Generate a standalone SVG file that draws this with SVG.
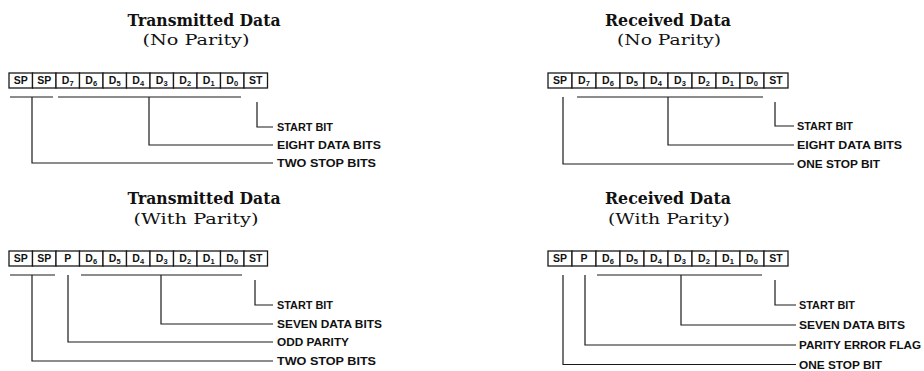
<svg xmlns="http://www.w3.org/2000/svg" width="924" height="371" viewBox="0 0 924 371">
<style>
.bg{fill:#ffffff}
.cell{fill:#ffffff;stroke:#1a1a1a;stroke-width:1.3}
.ct{font-family:"Liberation Sans",Arial,sans-serif;font-weight:bold;font-size:10.5px;fill:#111;text-anchor:middle}
.sub{font-size:7.5px}
.title{font-family:"DejaVu Serif",serif;font-weight:bold;font-size:16px;fill:#111;text-anchor:middle}
.subt{font-family:"DejaVu Serif",serif;font-size:15px;fill:#111;text-anchor:middle}
.lbl{font-family:"Liberation Sans",Arial,sans-serif;font-weight:bold;font-size:11.5px;fill:#111;dominant-baseline:central}
.ln{fill:none;stroke:#1a1a1a;stroke-width:1.2}
</style>
<rect class="bg" x="0" y="0" width="924" height="371"/>

<!-- Panel 1: Transmitted Data (No Parity) -->
<g id="tx-no-parity">
  <text class="title" x="204" y="26" textLength="153" lengthAdjust="spacingAndGlyphs">Transmitted Data</text>
  <text class="subt" x="196" y="45" textLength="107" lengthAdjust="spacingAndGlyphs">(No Parity)</text>
  <g id="tx-np-frame">
    <rect class="cell" x="9" y="73" width="23.5" height="15"/>
    <rect class="cell" x="32.5" y="73" width="23.5" height="15"/>
    <rect class="cell" x="56" y="73" width="23.5" height="15"/>
    <rect class="cell" x="79.5" y="73" width="23.5" height="15"/>
    <rect class="cell" x="103" y="73" width="23.5" height="15"/>
    <rect class="cell" x="126.5" y="73" width="23.5" height="15"/>
    <rect class="cell" x="150" y="73" width="23.5" height="15"/>
    <rect class="cell" x="173.5" y="73" width="23.5" height="15"/>
    <rect class="cell" x="197" y="73" width="23.5" height="15"/>
    <rect class="cell" x="220.5" y="73" width="23.5" height="15"/>
    <rect class="cell" x="244" y="73" width="23.5" height="15"/>
    <text class="ct" x="20.75" y="84.3">SP</text>
    <text class="ct" x="44.25" y="84.3">SP</text>
    <text class="ct" x="67.75" y="84.3">D<tspan class="sub" dy="2">7</tspan></text>
    <text class="ct" x="91.25" y="84.3">D<tspan class="sub" dy="2">6</tspan></text>
    <text class="ct" x="114.75" y="84.3">D<tspan class="sub" dy="2">5</tspan></text>
    <text class="ct" x="138.25" y="84.3">D<tspan class="sub" dy="2">4</tspan></text>
    <text class="ct" x="161.75" y="84.3">D<tspan class="sub" dy="2">3</tspan></text>
    <text class="ct" x="185.25" y="84.3">D<tspan class="sub" dy="2">2</tspan></text>
    <text class="ct" x="208.75" y="84.3">D<tspan class="sub" dy="2">1</tspan></text>
    <text class="ct" x="232.25" y="84.3">D<tspan class="sub" dy="2">0</tspan></text>
    <text class="ct" x="255.75" y="84.3">ST</text>
  </g>
  <text class="lbl" x="277" y="127" textLength="56" lengthAdjust="spacingAndGlyphs">START BIT</text>
  <text class="lbl" x="277" y="145" textLength="104" lengthAdjust="spacingAndGlyphs">EIGHT DATA BITS</text>
  <text class="lbl" x="277" y="163" textLength="99" lengthAdjust="spacingAndGlyphs">TWO STOP BITS</text>
</g>

<!-- Panel 2: Transmitted Data (With Parity) -->
<g id="tx-with-parity">
  <text class="title" x="204" y="204" textLength="153" lengthAdjust="spacingAndGlyphs">Transmitted Data</text>
  <text class="subt" x="196" y="224" textLength="125" lengthAdjust="spacingAndGlyphs">(With Parity)</text>
  <g id="tx-wp-frame">
    <rect class="cell" x="9" y="251" width="23.5" height="15"/>
    <rect class="cell" x="32.5" y="251" width="23.5" height="15"/>
    <rect class="cell" x="56" y="251" width="23.5" height="15"/>
    <rect class="cell" x="79.5" y="251" width="23.5" height="15"/>
    <rect class="cell" x="103" y="251" width="23.5" height="15"/>
    <rect class="cell" x="126.5" y="251" width="23.5" height="15"/>
    <rect class="cell" x="150" y="251" width="23.5" height="15"/>
    <rect class="cell" x="173.5" y="251" width="23.5" height="15"/>
    <rect class="cell" x="197" y="251" width="23.5" height="15"/>
    <rect class="cell" x="220.5" y="251" width="23.5" height="15"/>
    <rect class="cell" x="244" y="251" width="23.5" height="15"/>
    <text class="ct" x="20.75" y="262.3">SP</text>
    <text class="ct" x="44.25" y="262.3">SP</text>
    <text class="ct" x="67.75" y="262.3">P</text>
    <text class="ct" x="91.25" y="262.3">D<tspan class="sub" dy="2">6</tspan></text>
    <text class="ct" x="114.75" y="262.3">D<tspan class="sub" dy="2">5</tspan></text>
    <text class="ct" x="138.25" y="262.3">D<tspan class="sub" dy="2">4</tspan></text>
    <text class="ct" x="161.75" y="262.3">D<tspan class="sub" dy="2">3</tspan></text>
    <text class="ct" x="185.25" y="262.3">D<tspan class="sub" dy="2">2</tspan></text>
    <text class="ct" x="208.75" y="262.3">D<tspan class="sub" dy="2">1</tspan></text>
    <text class="ct" x="232.25" y="262.3">D<tspan class="sub" dy="2">0</tspan></text>
    <text class="ct" x="255.75" y="262.3">ST</text>
  </g>
  <text class="lbl" x="277" y="305" textLength="56" lengthAdjust="spacingAndGlyphs">START BIT</text>
  <text class="lbl" x="277" y="324" textLength="105" lengthAdjust="spacingAndGlyphs">SEVEN DATA BITS</text>
  <text class="lbl" x="277" y="342" textLength="72" lengthAdjust="spacingAndGlyphs">ODD PARITY</text>
  <text class="lbl" x="277" y="361" textLength="99" lengthAdjust="spacingAndGlyphs">TWO STOP BITS</text>
</g>

<!-- Panel 3: Received Data (No Parity) -->
<g id="rx-no-parity">
  <text class="title" x="668" y="26" textLength="126" lengthAdjust="spacingAndGlyphs">Received Data</text>
  <text class="subt" x="669" y="45" textLength="104" lengthAdjust="spacingAndGlyphs">(No Parity)</text>
  <g id="rx-np-frame">
    <rect class="cell" x="548" y="73" width="24" height="15"/>
    <rect class="cell" x="572" y="73" width="24" height="15"/>
    <rect class="cell" x="596" y="73" width="24" height="15"/>
    <rect class="cell" x="620" y="73" width="24" height="15"/>
    <rect class="cell" x="644" y="73" width="24" height="15"/>
    <rect class="cell" x="668" y="73" width="24" height="15"/>
    <rect class="cell" x="692" y="73" width="24" height="15"/>
    <rect class="cell" x="716" y="73" width="24" height="15"/>
    <rect class="cell" x="740" y="73" width="24" height="15"/>
    <rect class="cell" x="764" y="73" width="24" height="15"/>
    <text class="ct" x="560" y="84.3">SP</text>
    <text class="ct" x="584" y="84.3">D<tspan class="sub" dy="2">7</tspan></text>
    <text class="ct" x="608" y="84.3">D<tspan class="sub" dy="2">6</tspan></text>
    <text class="ct" x="632" y="84.3">D<tspan class="sub" dy="2">5</tspan></text>
    <text class="ct" x="656" y="84.3">D<tspan class="sub" dy="2">4</tspan></text>
    <text class="ct" x="680" y="84.3">D<tspan class="sub" dy="2">3</tspan></text>
    <text class="ct" x="704" y="84.3">D<tspan class="sub" dy="2">2</tspan></text>
    <text class="ct" x="728" y="84.3">D<tspan class="sub" dy="2">1</tspan></text>
    <text class="ct" x="752" y="84.3">D<tspan class="sub" dy="2">0</tspan></text>
    <text class="ct" x="776" y="84.3">ST</text>
  </g>
  <text class="lbl" x="797" y="126" textLength="56" lengthAdjust="spacingAndGlyphs">START BIT</text>
  <text class="lbl" x="797" y="145" textLength="105" lengthAdjust="spacingAndGlyphs">EIGHT DATA BITS</text>
  <text class="lbl" x="797" y="164" textLength="83" lengthAdjust="spacingAndGlyphs">ONE STOP BIT</text>
</g>

<!-- Panel 4: Received Data (With Parity) -->
<g id="rx-with-parity">
  <text class="title" x="668" y="204" textLength="126" lengthAdjust="spacingAndGlyphs">Received Data</text>
  <text class="subt" x="669" y="224" textLength="122" lengthAdjust="spacingAndGlyphs">(With Parity)</text>
  <g id="rx-wp-frame">
    <rect class="cell" x="548" y="251" width="24" height="15"/>
    <rect class="cell" x="572" y="251" width="24" height="15"/>
    <rect class="cell" x="596" y="251" width="24" height="15"/>
    <rect class="cell" x="620" y="251" width="24" height="15"/>
    <rect class="cell" x="644" y="251" width="24" height="15"/>
    <rect class="cell" x="668" y="251" width="24" height="15"/>
    <rect class="cell" x="692" y="251" width="24" height="15"/>
    <rect class="cell" x="716" y="251" width="24" height="15"/>
    <rect class="cell" x="740" y="251" width="24" height="15"/>
    <rect class="cell" x="764" y="251" width="24" height="15"/>
    <text class="ct" x="560" y="262.3">SP</text>
    <text class="ct" x="584" y="262.3">P</text>
    <text class="ct" x="608" y="262.3">D<tspan class="sub" dy="2">6</tspan></text>
    <text class="ct" x="632" y="262.3">D<tspan class="sub" dy="2">5</tspan></text>
    <text class="ct" x="656" y="262.3">D<tspan class="sub" dy="2">4</tspan></text>
    <text class="ct" x="680" y="262.3">D<tspan class="sub" dy="2">3</tspan></text>
    <text class="ct" x="704" y="262.3">D<tspan class="sub" dy="2">2</tspan></text>
    <text class="ct" x="728" y="262.3">D<tspan class="sub" dy="2">1</tspan></text>
    <text class="ct" x="752" y="262.3">D<tspan class="sub" dy="2">0</tspan></text>
    <text class="ct" x="776" y="262.3">ST</text>
  </g>
  <text class="lbl" x="799" y="305" textLength="56" lengthAdjust="spacingAndGlyphs">START BIT</text>
  <text class="lbl" x="799" y="325" textLength="106" lengthAdjust="spacingAndGlyphs">SEVEN DATA BITS</text>
  <text class="lbl" x="799" y="345" textLength="122" lengthAdjust="spacingAndGlyphs">PARITY ERROR FLAG</text>
  <text class="lbl" x="799" y="364.5" textLength="83" lengthAdjust="spacingAndGlyphs">ONE STOP BIT</text>
</g>

<g id="connectors">
  <!-- panel 1 -->
  <path class="ln" d="M10 97H53 M58 97H241"/>
  <path class="ln" d="M257 102V127H273"/>
  <path class="ln" d="M149 97V145H273"/>
  <path class="ln" d="M32 97V163H273"/>
  <!-- panel 2 -->
  <path class="ln" d="M10 275H55 M81 275H242"/>
  <path class="ln" d="M255 280V305H273"/>
  <path class="ln" d="M161 275V324H273"/>
  <path class="ln" d="M68 275V342H273"/>
  <path class="ln" d="M32 275V361H273"/>
  <!-- panel 3 -->
  <path class="ln" d="M577 97H763"/>
  <path class="ln" d="M775 102V126H794"/>
  <path class="ln" d="M668 97V145H794"/>
  <path class="ln" d="M563 97V164H794"/>
  <!-- panel 4 -->
  <path class="ln" d="M597 275H762"/>
  <path class="ln" d="M775 280V305H796"/>
  <path class="ln" d="M681 275V325H796"/>
  <path class="ln" d="M585 275V345H796"/>
  <path class="ln" d="M563 275V364.5H796"/>
</g>
</svg>
